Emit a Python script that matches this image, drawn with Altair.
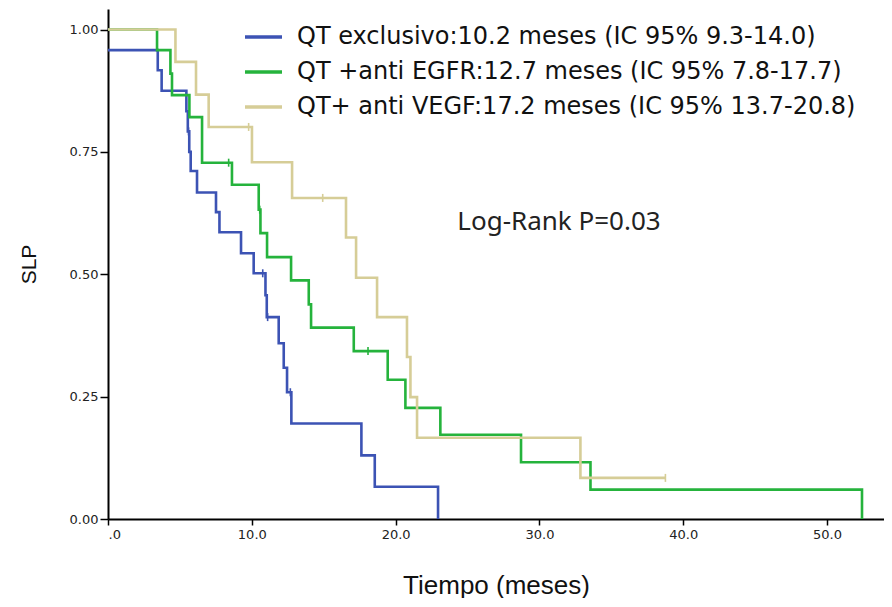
import altair as alt
import pandas as pd

# ---- data ----
series_names = [
    "QT exclusivo:10.2 meses (IC 95% 9.3-14.0)",
    "QT +anti EGFR:12.7 meses (IC 95% 7.8-17.7)",
    "QT+ anti VEGF:17.2 meses (IC 95% 13.7-20.8)",
]
series_colors = ["#3C53B4", "#25B33C", "#D6CD97"]

blue_t = [0, 3.46, 3.73, 5.45, 5.55, 5.65, 5.75, 6.19, 7.51, 7.75, 9.25, 10.13,
          10.95, 11.04, 11.87, 12.22, 12.45, 12.75, 17.62, 18.55, 22.95]
blue_s = [0.958, 0.917, 0.875, 0.833, 0.792, 0.750, 0.711, 0.667, 0.627, 0.586,
          0.543, 0.502, 0.457, 0.4125, 0.359, 0.309, 0.259, 0.195, 0.130, 0.066, 0.0]
blue_cens_t = [5.6, 10.76, 11.1, 12.68]
blue_cens_s = [0.792, 0.502, 0.4125, 0.259]

green_t = [0, 3.41, 4.34, 4.45, 5.66, 6.54, 8.62, 10.48, 10.6, 11.06, 12.73, 13.96,
           14.12, 17.09, 19.45, 20.68, 23.11, 28.72, 33.55, 52.43]
green_s = [1.0, 0.958, 0.91, 0.866, 0.821, 0.728, 0.683, 0.632, 0.584, 0.535, 0.4875,
           0.4385, 0.391, 0.343, 0.2845, 0.227, 0.172, 0.116, 0.06, 0.0]
green_cens_t = [8.39, 10.55, 18.08]
green_cens_s = [0.728, 0.632, 0.343]

yellow_t = [0, 4.69, 6.12, 7.0, 10.01, 12.8, 16.55, 17.25, 18.71, 20.79, 21.03,
            21.49, 32.85, 38.76]
yellow_s = [1.0, 0.934, 0.867, 0.801, 0.729, 0.656, 0.575, 0.493, 0.4125, 0.331,
            0.249, 0.166, 0.084, 0.084]
yellow_cens_t = [9.78, 14.93, 38.76]
yellow_cens_s = [0.801, 0.656, 0.084]

x_ticks = [0, 10, 20, 30, 40, 50]
y_ticks = [0, 0.25, 0.5, 0.75, 1.0]
annotation = "Log-Rank P=0.03"

# ---- build tables ----
curves = [(blue_t, blue_s), (green_t, green_s), (yellow_t, yellow_s)]
cens = [(blue_cens_t, blue_cens_s), (green_cens_t, green_cens_s),
        (yellow_cens_t, yellow_cens_s)]

rows = []
for name, (ts, ss) in zip(series_names, curves):
    for i, (t, s) in enumerate(zip(ts, ss)):
        rows.append({"t": t, "s": s, "grupo": name, "idx": i})
lines_df = pd.DataFrame(rows)

crow = []
for name, (ts, ss) in zip(series_names, cens):
    for t, s in zip(ts, ss):
        crow.append({"t": t, "s": s, "grupo": name})
cens_df = pd.DataFrame(crow)

xscale = alt.Scale(domain=[0, 53.96], nice=False, zero=False)
yscale = alt.Scale(domain=[0, 1.042], nice=False)
cscale = alt.Scale(domain=series_names, range=series_colors)

x_axis = alt.Axis(
    values=x_ticks,
    labelExpr="datum.value == 0 ? '.0' : format(datum.value, '.1f')",
    tickSize=6, labelPadding=3, labelFont="DejaVu Sans", labelFontSize=13,
    title="Tiempo (meses)", titleFont="Liberation Sans", titleFontSize=26,
    titleFontWeight="normal", titlePadding=31, titleColor="#111",
)
y_axis = alt.Axis(
    values=y_ticks, format=".2f",
    tickSize=8, labelPadding=2, labelFont="DejaVu Sans", labelFontSize=13,
    title="SLP", titleFont="Liberation Sans", titleFontSize=21,
    titleFontWeight="normal", titlePadding=30, titleColor="#111",
)

legend = alt.Legend(
    title=None, orient="none", legendX=135, legendY=15,
    symbolType="stroke", symbolSize=1369, symbolStrokeWidth=3.5,
    labelFont="DejaVu Sans", labelFontSize=24, labelColor="#111",
    labelLimit=1000, labelOffset=13, rowPadding=9, padding=0, clipHeight=26,
)

lines = alt.Chart(lines_df).mark_line(interpolate="step-after", strokeWidth=2.6).encode(
    x=alt.X("t:Q", scale=xscale, axis=x_axis),
    y=alt.Y("s:Q", scale=yscale, axis=y_axis),
    color=alt.Color("grupo:N", scale=cscale, legend=legend),
    order="idx:Q",
)

marks = alt.Chart(cens_df).mark_point(
    shape="M0,-1L0,1", size=64, strokeWidth=1.6, filled=False, opacity=1
).encode(
    x=alt.X("t:Q", scale=xscale),
    y=alt.Y("s:Q", scale=yscale),
    color=alt.Color("grupo:N", scale=cscale, legend=None),
)

label = alt.Chart(pd.DataFrame({"txt": [annotation]})).mark_text(
    font="Noto Sans", fontSize=26, color="#222", align="center", baseline="middle"
).encode(
    text="txt:N", x=alt.value(451), y=alt.value(213)
)

chart = alt.layer(lines, marks, label).properties(
    width=776, height=510,
    padding={"left": 100, "top": 1, "right": 0, "bottom": 79},
    autosize=alt.AutoSizeParams(type="none"),
).configure_view(stroke=None).configure_axis(
    domainColor="black", domainWidth=2, tickColor="black", tickWidth=1.5,
    grid=False, labelColor="#222",
)

chart.save("out.html", embed_options={"renderer": "svg", "actions": False})
